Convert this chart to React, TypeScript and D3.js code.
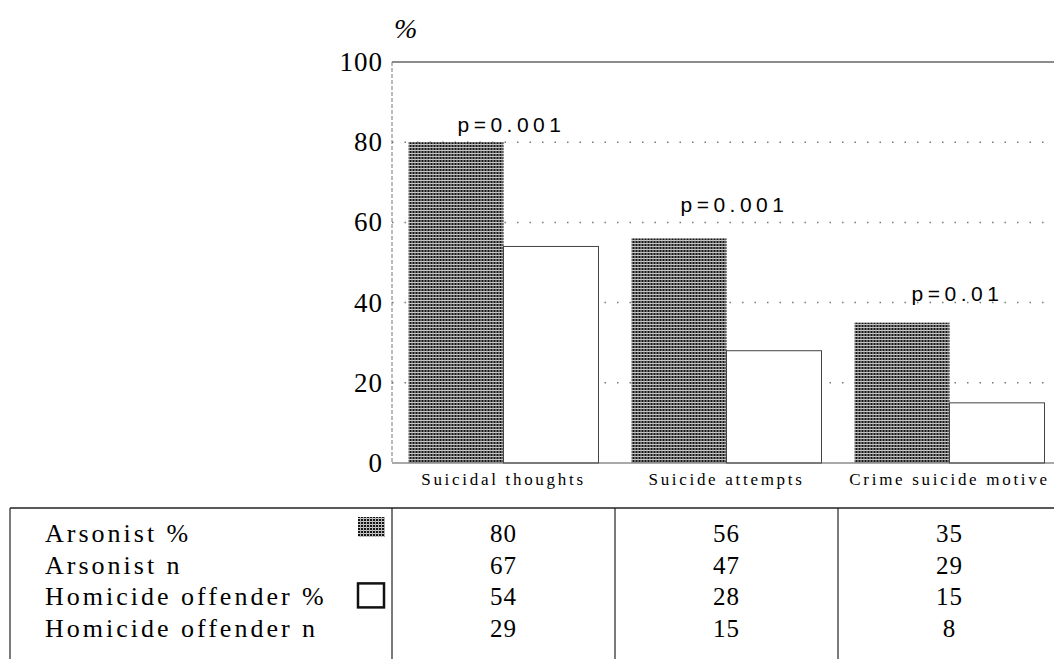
import React, { useEffect, useRef } from 'react'
import * as d3 from 'd3'

const categories = ['Suicidal thoughts', 'Suicide attempts', 'Crime suicide motive']
const series = ['Arsonist', 'Homicide offender']
const arsonistPct = [80, 56, 35]
const arsonistN = [67, 47, 29]
const homicidePct = [54, 28, 15]
const homicideN = [29, 15, 8]
const pLabels = ['p=0.001', 'p=0.001', 'p=0.01']
const pLabelLevels = [82.5, 62.5, 40.5]
const yTicks = [0, 20, 40, 60, 80, 100]
const tableRows = [
  { label: 'Arsonist %', values: arsonistPct, swatch: 'Arsonist' },
  { label: 'Arsonist n', values: arsonistN, swatch: null },
  { label: 'Homicide offender %', values: homicidePct, swatch: 'Homicide offender' },
  { label: 'Homicide offender n', values: homicideN, swatch: null },
]

const SERIF = "'Liberation Serif', 'Times New Roman', 'DejaVu Serif', serif"
const SANS = "'Liberation Sans', Arial, sans-serif"

const App = () => {
  const svgRef = useRef<SVGSVGElement>(null)

  useEffect(() => {
    const width = 1054
    const height = 659
    const svg = d3.select(svgRef.current).attr('width', width).attr('height', height)
    svg.selectAll('*').remove()

    // hatched fill for the arsonist bars
    const defs = svg.append('defs')
    const pat = defs
      .append('pattern')
      .attr('id', 'hatch')
      .attr('patternUnits', 'userSpaceOnUse')
      .attr('width', 3)
      .attr('height', 3)
    pat.append('rect').attr('width', 3).attr('height', 3).attr('fill', '#161616')
    pat.append('rect').attr('width', 3).attr('height', 1).attr('fill', '#cfcfcf')
    pat.append('rect').attr('width', 1).attr('height', 3).attr('fill', '#b0b0b0')

    const y = d3.scaleLinear().domain([0, 100]).range([463, 62])
    const x = d3
      .scaleBand()
      .domain(categories)
      .range([392, 1061])
      .paddingInner(0.148)
      .paddingOuter(0.074)
    const xs = d3.scaleBand().domain(series).range([0, x.bandwidth()])

    const plotLeft = 392
    const plotRight = width

    // grid
    svg
      .append('g')
      .selectAll('line')
      .data(yTicks.filter((d) => d > 0 && d < 100))
      .enter()
      .append('line')
      .attr('x1', plotLeft)
      .attr('x2', plotRight)
      .attr('y1', (d) => y(d))
      .attr('y2', (d) => y(d))
      .attr('stroke', '#777')
      .attr('stroke-width', 1.5)
      .attr('stroke-dasharray', '1.5,11')

    // top frame line
    svg
      .append('line')
      .attr('x1', plotLeft)
      .attr('x2', plotRight)
      .attr('y1', y(100))
      .attr('y2', y(100))
      .attr('stroke', '#666')
      .attr('stroke-width', 1.5)

    // left axis (dashed)
    svg
      .append('line')
      .attr('x1', plotLeft)
      .attr('x2', plotLeft)
      .attr('y1', y(100))
      .attr('y2', y(0))
      .attr('stroke', '#777')
      .attr('stroke-width', 1)
      .attr('stroke-dasharray', '4,2')

    // y tick labels
    svg
      .append('g')
      .selectAll('text')
      .data(yTicks)
      .enter()
      .append('text')
      .attr('x', 383)
      .attr('y', (d) => y(d) + 9)
      .attr('text-anchor', 'end')
      .attr('font-family', SERIF)
      .attr('font-size', 27)
      .attr('letter-spacing', 1)
      .text((d) => d)

    svg
      .append('text')
      .attr('x', 394)
      .attr('y', 38)
      .attr('font-family', SERIF)
      .attr('font-style', 'italic')
      .attr('font-size', 28)
      .text('%')

    // bars
    const groups = svg
      .append('g')
      .selectAll('g')
      .data(categories)
      .enter()
      .append('g')
      .attr('transform', (d) => `translate(${x(d)},0)`)

    groups
      .append('rect')
      .attr('x', xs('Arsonist'))
      .attr('width', xs.bandwidth())
      .attr('y', (d, i) => y(arsonistPct[i]))
      .attr('height', (d, i) => y(0) - y(arsonistPct[i]))
      .attr('fill', 'url(#hatch)')

    groups
      .append('rect')
      .attr('x', xs('Homicide offender'))
      .attr('width', xs.bandwidth())
      .attr('y', (d, i) => y(homicidePct[i]))
      .attr('height', (d, i) => y(0) - y(homicidePct[i]))
      .attr('fill', '#fff')
      .attr('stroke', '#444')
      .attr('stroke-width', 1)

    // p-value labels
    groups
      .append('text')
      .attr('x', x.bandwidth() / 2 + 8)
      .attr('y', (d, i) => y(pLabelLevels[i]))
      .attr('text-anchor', 'middle')
      .attr('font-family', SANS)
      .attr('font-size', 21)
      .attr('font-weight', 300)
      .attr('letter-spacing', 4.5)
      .text((d, i) => pLabels[i])

    // category labels
    groups
      .append('text')
      .attr('x', x.bandwidth() / 2)
      .attr('y', 485)
      .attr('text-anchor', 'middle')
      .attr('font-family', SERIF)
      .attr('font-size', 17)
      .attr('letter-spacing', 2.7)
      .text((d) => d)

    // baseline
    svg
      .append('line')
      .attr('x1', plotLeft)
      .attr('x2', plotRight)
      .attr('y1', y(0))
      .attr('y2', y(0))
      .attr('stroke', '#555')
      .attr('stroke-width', 1.2)

    // data table
    const tableTop = 508
    const rowH = 31.7
    const step = x.step()
    const colEdges = categories.map((c) => (x(c) as number) - (step * x.paddingInner()) / 2)

    svg
      .append('line')
      .attr('x1', 10)
      .attr('x2', width)
      .attr('y1', tableTop)
      .attr('y2', tableTop)
      .attr('stroke', '#222')
      .attr('stroke-width', 1.5)
    svg
      .append('line')
      .attr('x1', 10)
      .attr('x2', 10)
      .attr('y1', tableTop)
      .attr('y2', height)
      .attr('stroke', '#222')
      .attr('stroke-width', 1.2)
    svg
      .append('g')
      .selectAll('line')
      .data(colEdges)
      .enter()
      .append('line')
      .attr('x1', (d) => d)
      .attr('x2', (d) => d)
      .attr('y1', tableTop)
      .attr('y2', height)
      .attr('stroke', '#222')
      .attr('stroke-width', 1.2)

    const rows = svg
      .append('g')
      .selectAll('g')
      .data(tableRows)
      .enter()
      .append('g')
      .attr('transform', (d, i) => `translate(0,${tableTop + rowH * i + 34})`)

    rows
      .append('text')
      .attr('x', 45)
      .attr('font-family', SERIF)
      .attr('font-size', 26)
      .attr('letter-spacing', 3)
      .text((d) => d.label)

    rows
      .filter((d) => d.swatch === 'Arsonist')
      .append('rect')
      .attr('x', 358)
      .attr('y', -25)
      .attr('width', 27)
      .attr('height', 20)
      .attr('fill', 'url(#hatch)')

    rows
      .filter((d) => d.swatch === 'Homicide offender')
      .append('rect')
      .attr('x', 358)
      .attr('y', -22)
      .attr('width', 26)
      .attr('height', 24)
      .attr('fill', '#fff')
      .attr('stroke', '#111')
      .attr('stroke-width', 2.5)

    rows
      .selectAll('text.val')
      .data((d) => d.values)
      .enter()
      .append('text')
      .attr('class', 'val')
      .attr('x', (d, i) => (x(categories[i]) as number) + x.bandwidth() / 2)
      .attr('text-anchor', 'middle')
      .attr('font-family', SERIF)
      .attr('font-size', 25)
      .attr('letter-spacing', 1)
      .text((d) => d)
  }, [])

  return <svg ref={svgRef} style={{ position: 'absolute', left: 0, top: 0, background: '#fff' }}></svg>
}

export default App
